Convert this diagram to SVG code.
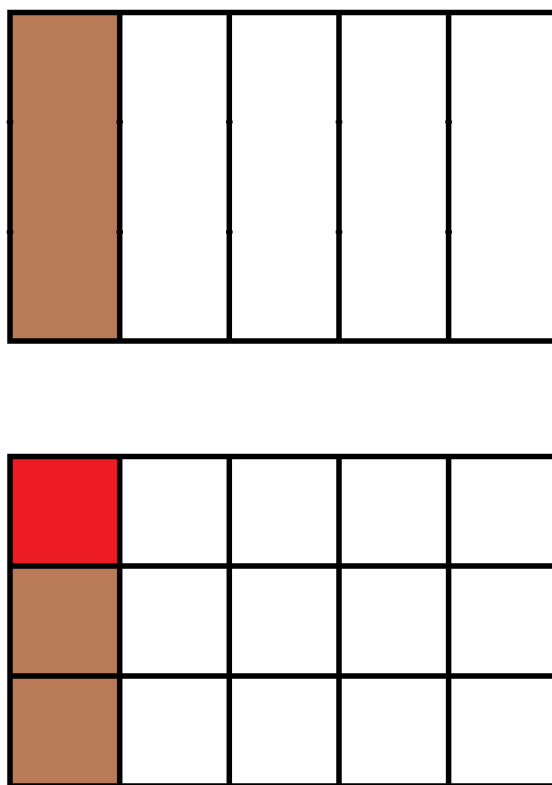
<svg xmlns="http://www.w3.org/2000/svg" width="552" height="785" viewBox="0 0 552 785">
<style>
.brown{fill:#b97a57}
.red{fill:#ed1c24}
.ln{stroke:#000;stroke-width:5.5;fill:none;stroke-linecap:square}
.tick{fill:#000}
</style>
<rect width="552" height="785" fill="#fff"/>
<g id="top-grid">
<rect class="brown" x="10" y="12" width="110" height="329"/>
<g id="top-lines">
<path class="ln" d="M10,12.5 H560 M10,341 H560 M10,12.5 V341 M119.7,12.5 V341 M229.3,12.5 V341 M339,12.5 V341 M448.6,12.5 V341"/>
<rect class="tick" x="6.7" y="120.5" width="6.6" height="3"/>
<rect class="tick" x="116.4" y="120.5" width="6.6" height="3"/>
<rect class="tick" x="226" y="120.5" width="6.6" height="3"/>
<rect class="tick" x="335.7" y="120.5" width="6.6" height="3"/>
<rect class="tick" x="445.3" y="120.5" width="6.6" height="3"/>
<rect class="tick" x="6.7" y="230.5" width="6.6" height="3"/>
<rect class="tick" x="116.4" y="230.5" width="6.6" height="3"/>
<rect class="tick" x="226" y="230.5" width="6.6" height="3"/>
<rect class="tick" x="335.7" y="230.5" width="6.6" height="3"/>
<rect class="tick" x="445.3" y="230.5" width="6.6" height="3"/>
</g>
</g>
<g id="bottom-grid">
<rect class="red" x="10" y="456" width="110" height="110"/>
<rect class="brown" x="10" y="566" width="110" height="222"/>
<path class="ln" d="M10,456.5 H560 M10,566 H560 M10,676 H560 M10,786 H560 M10,456.5 V790 M119.7,456.5 V790 M229.3,456.5 V790 M339,456.5 V790 M448.6,456.5 V790"/>
</g>
</svg>
